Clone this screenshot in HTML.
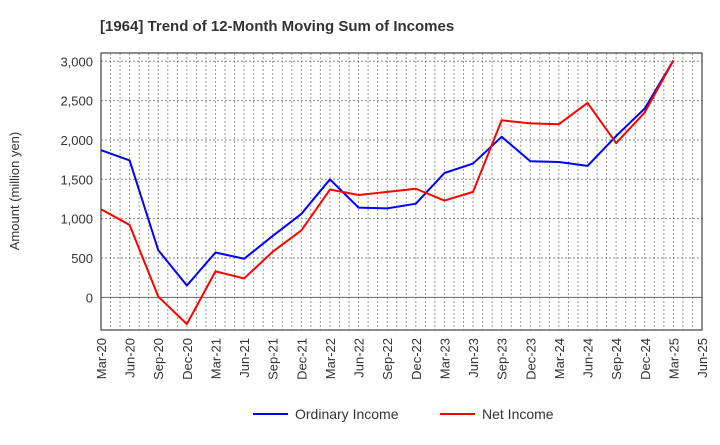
<!DOCTYPE html>
<html><head><meta charset="utf-8"><style>
body{margin:0;background:#fff;font-family:"Liberation Sans",Arial,sans-serif}
</style></head><body>
<svg width="720" height="440" xmlns="http://www.w3.org/2000/svg" font-family="Liberation Sans, Arial, sans-serif">
<text x="100" y="31" font-size="15" font-weight="bold" fill="#333">[1964]  Trend of 12-Month Moving Sum of Incomes</text>
<g id="grid"></g>
<g id="axes"></g>
<g id="series"></g>
<text transform="translate(19,191) rotate(-90)" text-anchor="middle" font-size="13" fill="#333">Amount (million yen)</text>
<g>
<g><line x1="253" y1="414" x2="288" y2="414" stroke="#0000ff" stroke-width="2"/><text x="295" y="419" font-size="14" fill="#333">Ordinary Income</text></g>
<g><line x1="440" y1="414" x2="475" y2="414" stroke="#ff0000" stroke-width="2"/><text x="482" y="419" font-size="14" fill="#333">Net Income</text></g>
</g>
</svg>
<script>
const categories=["Mar-20","Jun-20","Sep-20","Dec-20","Mar-21","Jun-21","Sep-21","Dec-21","Mar-22","Jun-22","Sep-22","Dec-22","Mar-23","Jun-23","Sep-23","Dec-23","Mar-24","Jun-24","Sep-24","Dec-24","Mar-25","Jun-25"];
const ordinaryIncome=[1870,1740,600,150,570,490,780,1060,1500,1140,1130,1190,1580,1700,2040,1730,1720,1670,2050,2400,3010];
const netIncome=[1120,920,10,-340,330,240,580,850,1370,1300,1340,1380,1230,1340,2250,2210,2200,2470,1960,2350,3010];
const yTicks=[0,500,1000,1500,2000,2500,3000];
const yTickLabels=["0","500","1,000","1,500","2,000","2,500","3,000"];
const L=101,R=702,T=53,B=330,yMin=-415,yMax=3105;
const NS="http://www.w3.org/2000/svg";
const xs=i=>L+(R-L)*i/(categories.length-1);
const ys=v=>B-(v-yMin)/(yMax-yMin)*(B-T);
function mk(t,a,p){const e=document.createElementNS(NS,t);for(const k in a)e.setAttribute(k,a[k]);p.appendChild(e);return e;}
const grid=document.getElementById('grid'),axes=document.getElementById('axes'),series=document.getElementById('series');
const nMonths=(categories.length-1)*3;
for(let m=1;m<nMonths;m++){const x=L+(R-L)*m/nMonths;
const g=mk('line',{x1:x,x2:x,y1:T,y2:B,stroke:'#999','stroke-width':1,'stroke-dasharray':'2,2'},grid);

}
yTicks.forEach((v,i)=>{const y=ys(v);
const g=mk('line',{x1:L,x2:R,y1:y,y2:y,stroke:v===0?'#666':'#888','stroke-width':1,'stroke-dasharray':v===0?'':'2,2'},grid);


const t=mk('text',{x:L-8,y:y+5,'text-anchor':'end','font-size':13,fill:'#333'},axes);t.textContent=yTickLabels[i];

});
const fr=mk('rect',{x:L,y:T,width:R-L,height:B-T,fill:'none',stroke:'#444','stroke-width':1.2},axes);


categories.forEach((c,i)=>{const x=xs(i);
const t=mk('text',{transform:`translate(${x+5},${B+8}) rotate(-90)`,'text-anchor':'end','font-size':13,fill:'#333'},axes);t.textContent=c;

});
function line(d,col,name){const p=mk('polyline',{points:d.map((v,i)=>xs(i)+','+ys(v)).join(' '),fill:'none',stroke:col,'stroke-width':2,'stroke-linejoin':'round'},series);

}
line(ordinaryIncome,'#0000ff','ordinary-income-line');
line(netIncome,'#ff0000','net-income-line');
</script>
</body></html>
